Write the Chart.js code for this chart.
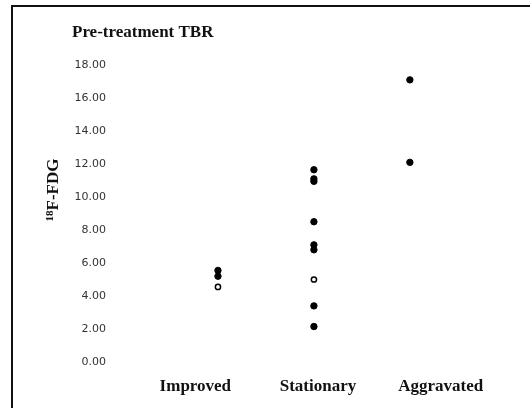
<!DOCTYPE html>
<html lang="en">
<head>
    <meta charset="UTF-8">
    <title>Pre-treatment TBR</title>
    <script src="https://cdn.jsdelivr.net/npm/chart.js"></script>
    <style>
        body { margin: 0; background: #fff; }
        #wrap { position: relative; width: 530px; height: 408px; }
        #frame { position: absolute; left: 11px; top: 5px; right: 0; bottom: 0; border-left: 2px solid #111; border-top: 2px solid #111; }
        #chart { position: absolute; left: 0; top: 0; }
    </style>
</head>
<body>
    <div id="wrap">
        <div id="frame"></div>
        <canvas id="chart" width="530" height="408"></canvas>
    </div>

    <script>
        // groups on the x axis
        const groups = ['Improved', 'Stationary', 'Aggravated'];
        // filled markers, per group
        const filledValues = [
            [5.55, 5.2],
            [11.65, 11.1, 10.95, 8.5, 7.1, 6.8, 3.4, 2.15],
            [17.1, 12.1]
        ];
        // open markers, per group
        const openValues = [
            [4.55],
            [5.0],
            []
        ];
        const yTicks = [0, 2, 4, 6, 8, 10, 12, 14, 16, 18];

        function toPoints(values) {
            let pts = [];
            values.forEach(function (list, i) {
                list.forEach(function (v) {
                    pts.push({ x: i + 1, y: v });
                });
            });
            return pts;
        }

        const serifBold = '"Liberation Serif", "Times New Roman", serif';

        // title and y axis label (with superscript 18)
        const textPlugin = {
            id: 'texts',
            afterDraw(chart) {
                const ctx = chart.ctx;
                ctx.save();
                ctx.fillStyle = '#111';
                ctx.textBaseline = 'middle';
                ctx.font = 'bold 17px ' + serifBold;
                ctx.textAlign = 'left';
                ctx.fillText('Pre-treatment TBR', 72, 33);

                ctx.translate(54, 190);
                ctx.rotate(-Math.PI / 2);
                ctx.font = 'bold 11px ' + serifBold;
                let supW = ctx.measureText('18').width;
                ctx.font = 'bold 17px ' + serifBold;
                let mainW = ctx.measureText('F-FDG').width;
                let start = -(supW + mainW) / 2;
                ctx.font = 'bold 11px ' + serifBold;
                ctx.fillText('18', start, -4);
                ctx.font = 'bold 17px ' + serifBold;
                ctx.fillText('F-FDG', start + supW, 0);
                ctx.restore();
            }
        };

        new Chart(document.getElementById('chart'), {
            type: 'scatter',
            data: {
                datasets: [
                    {
                        label: 'filled',
                        data: toPoints(filledValues),
                        xAxisID: 'xp',
                        pointRadius: 3.2,
                        pointBackgroundColor: '#000',
                        pointBorderColor: '#000',
                        pointBorderWidth: 1
                    },
                    {
                        label: 'open',
                        data: toPoints(openValues),
                        xAxisID: 'xp',
                        pointRadius: 2.6,
                        pointBackgroundColor: '#fff',
                        pointBorderColor: '#000',
                        pointBorderWidth: 1.5
                    }
                ]
            },
            options: {
                responsive: false,
                animation: false,
                layout: { padding: { left: 0, top: 65, right: 28, bottom: 0 } },
                plugins: {
                    legend: { display: false },
                    tooltip: { enabled: false }
                },
                scales: {
                    x: {
                        type: 'category',
                        labels: groups,
                        offset: true,
                        grid: { display: false, drawTicks: false },
                        border: { display: false },
                        ticks: {
                            padding: 14,
                            color: '#111',
                            font: { family: serifBold, size: 17, weight: 'bold' }
                        },
                        afterFit(scale) { scale.height = 46; }
                    },
                    xp: {
                        type: 'linear',
                        display: false,
                        min: 0.125,
                        max: 3.96
                    },
                    y: {
                        min: 0,
                        max: 18,
                        afterBuildTicks(scale) {
                            scale.ticks = yTicks.map(function (v) { return { value: v }; });
                        },
                        grid: { display: false, drawTicks: false },
                        border: { display: false },
                        ticks: {
                            padding: 28,
                            color: '#333',
                            font: { family: '"DejaVu Sans", sans-serif', size: 11 },
                            callback: function (v) { return Number(v).toFixed(2); }
                        },
                        afterFit(scale) { scale.width = 134; }
                    }
                }
            },
            plugins: [textPlugin]
        });
    </script>
</body>
</html>
